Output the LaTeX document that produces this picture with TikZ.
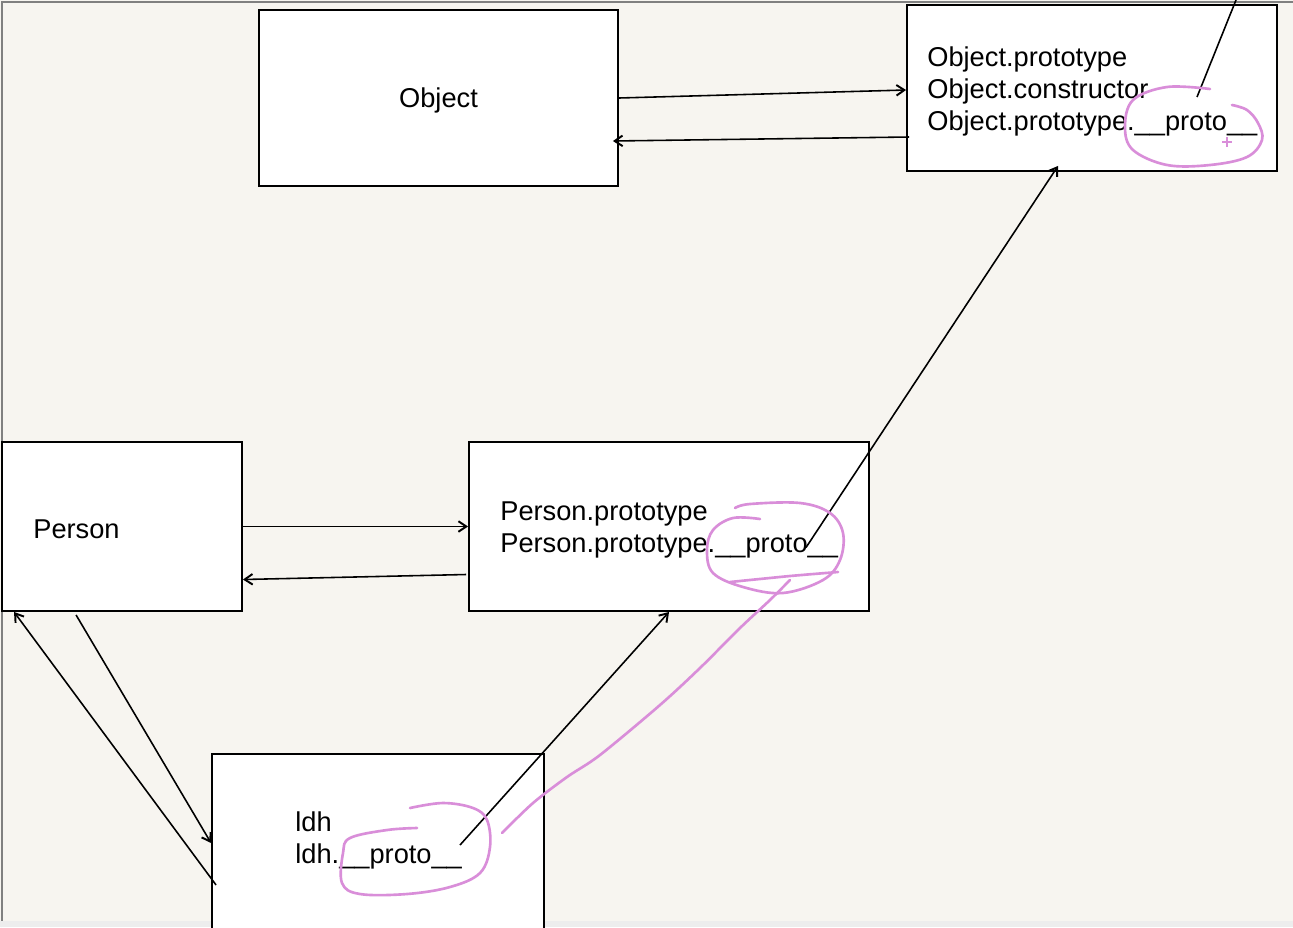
\documentclass[tikz,border=0pt]{standalone}
\usepackage{fontspec}
\setmainfont{Liberation Sans}
\usepackage{xcolor}
\usetikzlibrary{arrows.meta,calc}

\definecolor{paper}{HTML}{F7F5F0}
\definecolor{marker}{HTML}{D98ED9}

\begin{document}
\begin{tikzpicture}[x=0.02cm,y=-0.02cm]
\tikzset{box/.style={draw,fill=white,line width=1.1pt,inner sep=0pt}}
\tikzset{txt/.style={align=left,anchor=west,inner sep=0pt,font=\fontsize{15.5}{18.2}\selectfont}}
\tikzset{link/.style={-{Straight Barb[length=4.5pt,width=6pt,line width=1.1pt]},line width=0.9pt}}
\tikzset{circ/.style={marker,line width=1.5pt,line cap=round,line join=round}}

\clip (0,0) rectangle (1293,927);
\fill[paper] (0,0) rectangle (1293,927);
\draw[gray,line width=1.2pt] (2,927) -- (2,2) -- (1293,2);
\fill[black!7] (0,921) rectangle (1293,927);

\node[box,minimum width=7.18cm,minimum height=3.52cm] (obj) at (438.5,98) {};
\node[font=\fontsize{15.5}{18.2}\selectfont] at ($(obj.center)+(0,2)$) {Object};
\node[box,minimum width=7.4cm,minimum height=3.32cm] (objp) at (1092,88) {};
\node[txt] (objpt) at (927,91) {Object.prototype\\Object.constructor\\Object.prototype.\_\_proto\_\_};
\node[box,minimum width=4.8cm,minimum height=3.38cm] (person) at (122,526.5) {};
\node[txt] (persont) at (33,529) {Person};
\node[box,minimum width=8cm,minimum height=3.38cm] (personp) at (669,526.5) {};
\node[txt] (personpt) at (500,530) {Person.prototype\\Person.prototype.\_\_proto\_\_};
\node[box,minimum width=6.64cm,minimum height=3.84cm] (ldh) at (378,850) {};
\node[txt] (ldht) at (295,840) {ldh\\ldh.\_\_proto\_\_};
\coordinate (up) at (1236,0);

\draw[link] (obj.east) -- ($(objp.west)+(0,2)$);
\draw[link] ($(objp.west)+(3,49)$) -- ($(obj.east)+(-6,43)$);
\draw[link] (person.east) -- (personp.west);
\draw[link] ($(personp.west)+(-2,48)$) -- ($(person.east)+(0,53)$);
\draw[link] ($(person.south west)+(75,3)$) -- ($(ldh.west)+(0,-7)$);
\draw[link] ($(ldh.west)+(5,35)$) -- ($(person.south west)+(13,0)$);
\draw[link] ($(ldh.center)+(82,-5)$) -- (personp.south);
\draw[link] ($(personp.center)+(137,21)$) -- ($(objp.south)+(-34,-6)$);
\draw[line width=0.9pt] ($(objp.center)+(105,9)$) -- (up);

\draw[circ] plot[smooth,tension=0.6] coordinates {(1210,89) (1167,87) (1133,100) (1125,127) (1133,150) (1167,165) (1210,165) (1247,157) (1262,140) (1258,123) (1247,110) (1232,105)};
\draw[marker,line width=0.8pt] (1222,142) -- (1232,142) (1227,137) -- (1227,147);
\draw[circ] plot[smooth,tension=0.6] coordinates {(735,508) (750,504) (800,503) (830,513) (843,533) (840,560) (823,580) (783,593) (743,587) (713,573) (707,550) (713,530) (733,518) (760,519)};
\draw[circ] plot[smooth,tension=0.4] coordinates {(838,572) (790,576) (730,582)};
\draw[circ] plot[smooth,tension=0.5] coordinates {(790,580) (770,600) (740,628) (700,668) (660,705) (600,755) (567,777) (533,803) (502,833)};
\draw[circ] plot[smooth,tension=0.6] coordinates {(410,808) (443,803) (473,808) (487,820) (490,847) (480,873) (450,887) (407,894) (360,894) (342,883) (343,853) (350,838) (387,830) (417,828)};
\end{tikzpicture}
\end{document}
